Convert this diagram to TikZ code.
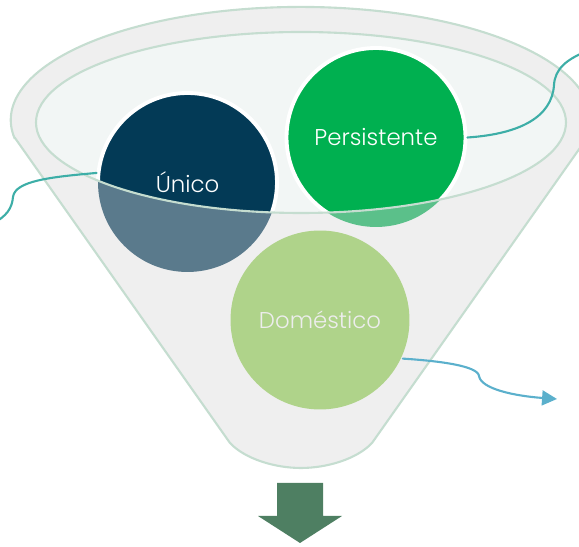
\documentclass[tikz,border=0pt]{standalone}
\usepackage{fontspec}
\setmainfont{Poppins}[UprightFont=* Light]
\usetikzlibrary{arrows.meta}
\definecolor{fnlbody}{HTML}{EFEFEF}
\definecolor{fnlmouth}{HTML}{F2F6F5}
\definecolor{fnlrim}{HTML}{C5DDD0}
\definecolor{fnlnavy}{HTML}{033A56}
\definecolor{fnlnavylow}{HTML}{5A7A8C}
\definecolor{fnlgreen}{HTML}{00B050}
\definecolor{fnlgreenlow}{HTML}{5BC08A}
\definecolor{fnllime}{HTML}{AFD38A}
\definecolor{fnlteal}{HTML}{3DAEA7}
\definecolor{fnlsky}{HTML}{5BB0CC}
\definecolor{fnlarrow}{HTML}{4E7F62}

\begin{document}
\begin{tikzpicture}[x=0.02cm, y=0.02cm,
    ball/.style={circle, minimum size=3.58cm, inner sep=0pt, outer sep=1.1pt},
    ballname/.style={font=\fontsize{13}{15}\selectfont, text=white},
    wire/.style={line width=1.2pt, line cap=round}]
\useasboundingbox (0,0) rectangle (579,547);

% funnel body
\draw[fill=fnlbody, draw=fnlrim, line width=1.2pt]
  (15,409) -- (230,104) .. controls (245,88) and (275,79) .. (301,79)
  .. controls (327,79) and (357,88) .. (372,104) -- (587,409)
  arc[start angle=-9.2, end angle=189.2, x radius=290, y radius=113] -- cycle;
\fill[fnlmouth] (301,424.5) ellipse [x radius=265, y radius=90.5];

% circles, as seen through the front of the funnel
\node[ball, fill=fnlnavylow]  (unico) at (187.5,364.5) {};
\node[ball, fill=fnlgreenlow] (pers)  at (376,409.5) {};
\node[ball, fill=fnllime]     (dom)   at (320,227) {};

% the parts inside the opening
\begin{scope}
  \clip (301,424.5) ellipse [x radius=265, y radius=90.5];
  \fill[fnlnavy] (unico) circle[radius=89.5];
  \fill[fnlgreen] (pers) circle[radius=89.5];
  \draw[white, line width=2.2pt] (unico) circle[radius=89.5];
  \draw[white, line width=2.2pt] (pers) circle[radius=89.5];
\end{scope}
\draw[fnlrim, line width=1.2pt] (301,424.5) ellipse [x radius=265, y radius=90.5];

% connectors
\draw[wire, fnlteal] (unico.174) .. controls (50,370) and (15,366) .. (13,350)
  .. controls (12,338) and (6,331) .. (-6,324);
\draw[wire, fnlteal] (pers.east) .. controls (520,413) and (552,430) .. (554,462)
  .. controls (555,478) and (566,488) .. (590,497);
\draw[wire, fnlsky, -{Triangle[length=8.5pt, width=8.5pt]}]
  (dom.-25) .. controls (440,186) and (478,181) .. (479,171)
  .. controls (481,158) and (515,151) .. (557,148);

% labels
\node[ballname] at (unico) {Único};
\node[ballname] at (pers) {Persistente};
\node[ballname, text=white!93!black] at (dom) {Doméstico};

% output arrow
\fill[fnlarrow] (277,64) -- (323,64) -- (323,31) -- (342,31) -- (300,4)
  -- (258,31) -- (277,31) -- cycle;
\end{tikzpicture}
\end{document}
